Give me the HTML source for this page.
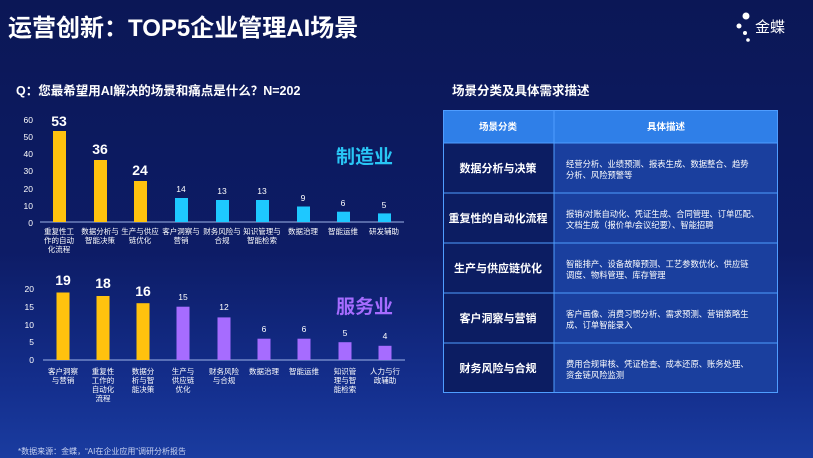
<!DOCTYPE html>
<html><head><meta charset="utf-8"><style>
body{margin:0;width:813px;height:458px;overflow:hidden;background:linear-gradient(180deg,#0b1756 0%,#0d1c66 55%,#142f8e 85%,#1a3ca0 100%);font-family:"Liberation Sans","Noto Sans CJK SC",sans-serif;}
svg{position:absolute;left:0;top:0}
</style></head><body>
<svg width="813" height="458" xmlns="http://www.w3.org/2000/svg" font-family="Liberation Sans, Noto Sans CJK SC, sans-serif">
<text x="8" y="36" fill="#fff" font-size="24" font-weight="bold">运营创新：TOP5企业管理AI场景</text>
<circle cx="746" cy="16" r="3.5" fill="#fff"/><circle cx="739" cy="26" r="2.5" fill="#fff"/><circle cx="745" cy="33" r="2" fill="#fff"/><circle cx="748" cy="40" r="1.8" fill="#fff"/>
<text x="755" y="32" fill="#fff" font-size="15">金蝶</text>
<text x="16" y="95" fill="#fff" font-size="12.5" font-weight="bold">Q：您最希望用AI解决的场景和痛点是什么？N=202</text>
<text x="452" y="95" fill="#fff" font-size="12.5" font-weight="bold">场景分类及具体需求描述</text>
<g fill="#fff" font-size="8.5" text-anchor="end">
<text x="33" y="123">60</text><text x="33" y="140">50</text><text x="33" y="157">40</text><text x="33" y="174">30</text><text x="33" y="192">20</text><text x="33" y="209">10</text><text x="33" y="226">0</text>
</g>
<line x1="40" y1="222" x2="404" y2="222" stroke="#9fb4e8" stroke-width="1"/>
<g fill="#ffc20e"><rect x="53" y="131" width="13" height="91"/><rect x="94" y="160" width="13" height="62"/><rect x="134" y="181" width="13" height="41"/></g>
<g fill="#1ec8ff"><rect x="175" y="198" width="13" height="24"/><rect x="216" y="200" width="13" height="22"/><rect x="256" y="200" width="13" height="22"/><rect x="297" y="206.5" width="13" height="15.5"/><rect x="337" y="211.7" width="13" height="10.3"/><rect x="378" y="213.4" width="13" height="8.6"/></g>
<g fill="#fff" text-anchor="middle" font-weight="bold" font-size="14"><text x="59" y="126">53</text><text x="100" y="154">36</text><text x="140" y="175">24</text></g>
<g fill="#fff" text-anchor="middle" font-size="8.5"><text x="181" y="192">14</text><text x="222" y="194">13</text><text x="262" y="194">13</text><text x="303" y="201">9</text><text x="343" y="206">6</text><text x="384" y="208">5</text></g>
<g fill="#fff" text-anchor="middle" font-size="7.5">
<text x="59" y="234">重复性工</text><text x="59" y="243">作的自动</text><text x="59" y="252">化流程</text>
<text x="100" y="234">数据分析与</text><text x="100" y="243">智能决策</text>
<text x="140" y="234">生产与供应</text><text x="140" y="243">链优化</text>
<text x="181" y="234">客户洞察与</text><text x="181" y="243">营销</text>
<text x="222" y="234">财务风险与</text><text x="222" y="243">合规</text>
<text x="262" y="234">知识管理与</text><text x="262" y="243">智能检索</text>
<text x="303" y="234">数据治理</text><text x="343" y="234">智能运维</text><text x="384" y="234">研发辅助</text>
</g>
<text x="393" y="163" fill="#29c6f5" font-size="19" font-weight="bold" text-anchor="end">制造业</text>
<g fill="#fff" font-size="8.5" text-anchor="end">
<text x="34" y="292">20</text><text x="34" y="310">15</text><text x="34" y="328">10</text><text x="34" y="345">5</text><text x="34" y="363">0</text>
</g>
<line x1="43" y1="360" x2="405" y2="360" stroke="#9fb4e8" stroke-width="1"/>
<g fill="#ffc20e"><rect x="56.5" y="292.5" width="13" height="67.5"/><rect x="96.5" y="296" width="13" height="64"/><rect x="136.5" y="303.2" width="13" height="56.8"/></g>
<g fill="#a66cff"><rect x="176.5" y="306.7" width="13" height="53.3"/><rect x="217.5" y="317.4" width="13" height="42.6"/><rect x="257.5" y="338.7" width="13" height="21.3"/><rect x="297.5" y="338.7" width="13" height="21.3"/><rect x="338.5" y="342.2" width="13" height="17.8"/><rect x="378.5" y="345.8" width="13" height="14.2"/></g>
<g fill="#fff" text-anchor="middle" font-weight="bold" font-size="14"><text x="63" y="285">19</text><text x="103" y="288">18</text><text x="143" y="296">16</text></g>
<g fill="#fff" text-anchor="middle" font-size="8.5"><text x="183" y="300">15</text><text x="224" y="310">12</text><text x="264" y="332">6</text><text x="304" y="332">6</text><text x="345" y="336">5</text><text x="385" y="339">4</text></g>
<g fill="#fff" text-anchor="middle" font-size="7.5">
<text x="63" y="374">客户洞察</text><text x="63" y="383">与营销</text>
<text x="103" y="374">重复性</text><text x="103" y="383">工作的</text><text x="103" y="392">自动化</text><text x="103" y="401">流程</text>
<text x="143" y="374">数据分</text><text x="143" y="383">析与智</text><text x="143" y="392">能决策</text>
<text x="183" y="374">生产与</text><text x="183" y="383">供应链</text><text x="183" y="392">优化</text>
<text x="224" y="374">财务风险</text><text x="224" y="383">与合规</text>
<text x="264" y="374">数据治理</text><text x="304" y="374">智能运维</text>
<text x="345" y="374">知识管</text><text x="345" y="383">理与智</text><text x="345" y="392">能检索</text>
<text x="385" y="374">人力与行</text><text x="385" y="383">政辅助</text>
</g>
<text x="393" y="313" fill="#a66cff" font-size="19" font-weight="bold" text-anchor="end">服务业</text>
<text x="18" y="454" fill="#c8d2f0" font-size="8">*数据来源：金蝶，“AI在企业应用”调研分析报告</text>
<!-- table -->
<rect x="443" y="110" width="335" height="33" fill="#2f7fe8"/>
<rect x="443" y="143" width="111" height="250" fill="#0c1d62"/>
<rect x="554" y="143" width="224" height="250" fill="#1a3f9e"/>
<g stroke="#4f9dff" stroke-width="1" fill="none">
<rect x="443.5" y="110.5" width="334" height="282"/>
<line x1="554" y1="110" x2="554" y2="393"/>
<line x1="443" y1="143" x2="778" y2="143"/><line x1="443" y1="193" x2="778" y2="193"/><line x1="443" y1="243" x2="778" y2="243"/><line x1="443" y1="293" x2="778" y2="293"/><line x1="443" y1="343" x2="778" y2="343"/>
</g>
<g fill="#fff" font-weight="bold" text-anchor="middle" font-size="9.5"><text x="498" y="130">场景分类</text><text x="666" y="130">具体描述</text></g>
<g fill="#fff" font-weight="bold" text-anchor="middle" font-size="11">
<text x="498" y="172">数据分析与决策</text><text x="498" y="222">重复性的自动化流程</text><text x="498" y="272">生产与供应链优化</text><text x="498" y="322">客户洞察与营销</text><text x="498" y="372">财务风险与合规</text>
</g>
<g fill="#fff" font-size="8.3">
<text x="566" y="167">经营分析、业绩预测、报表生成、数据整合、趋势</text><text x="566" y="178">分析、风险预警等</text>
<text x="566" y="217">报销/对账自动化、凭证生成、合同管理、订单匹配、</text><text x="566" y="228">文档生成（报价单/会议纪要）、智能招聘</text>
<text x="566" y="267">智能排产、设备故障预测、工艺参数优化、供应链</text><text x="566" y="278">调度、物料管理、库存管理</text>
<text x="566" y="317">客户画像、消费习惯分析、需求预测、营销策略生</text><text x="566" y="328">成、订单智能录入</text>
<text x="566" y="367">费用合规审核、凭证检查、成本还原、账务处理、</text><text x="566" y="378">资金链风险监测</text>
</g>
</svg>
</body></html>
